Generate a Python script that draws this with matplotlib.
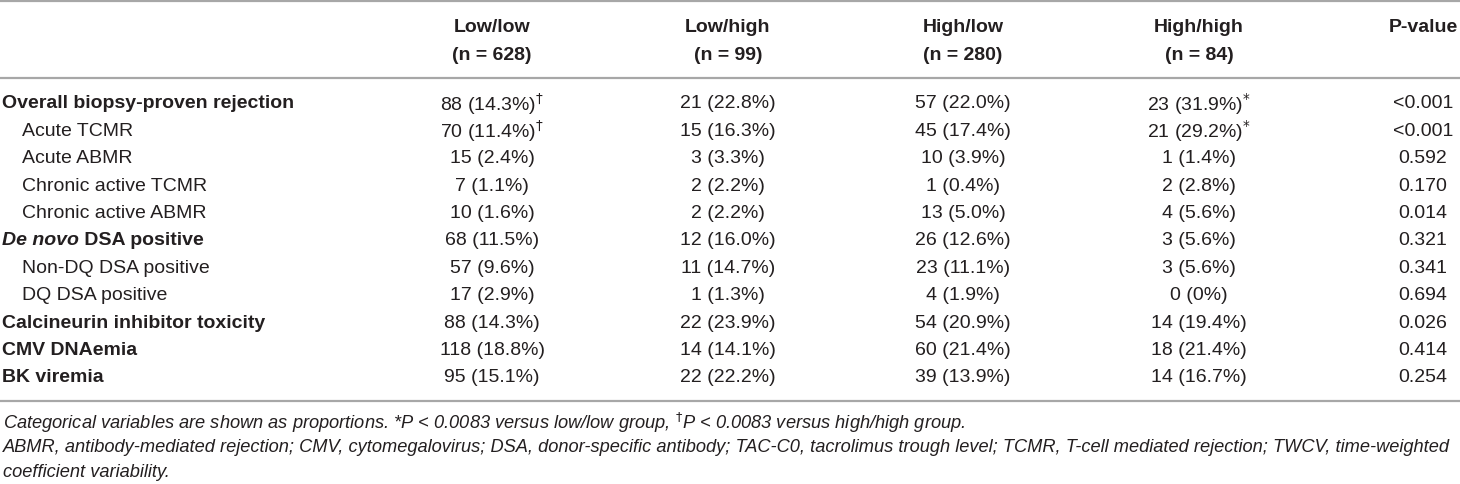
import matplotlib
matplotlib.use("Agg")
import matplotlib.pyplot as plt
from matplotlib.lines import Line2D
from matplotlib.transforms import offset_copy

# --- table content ---
groups = ["Low/low", "Low/high", "High/low", "High/high"]
group_n = [628, 99, 280, 84]

row_labels = [
    "Overall biopsy-proven rejection",
    "Acute TCMR",
    "Acute ABMR",
    "Chronic active TCMR",
    "Chronic active ABMR",
    "De novo DSA positive",
    "Non-DQ DSA positive",
    "DQ DSA positive",
    "Calcineurin inhibitor toxicity",
    "CMV DNAemia",
    "BK viremia",
]
row_level = [0, 1, 1, 1, 1, 0, 1, 1, 0, 0, 0]  # 0 = bold heading, 1 = indented sub-row

low_low = ["88 (14.3%)", "70 (11.4%)", "15 (2.4%)", "7 (1.1%)", "10 (1.6%)", "68 (11.5%)",
           "57 (9.6%)", "17 (2.9%)", "88 (14.3%)", "118 (18.8%)", "95 (15.1%)"]
low_high = ["21 (22.8%)", "15 (16.3%)", "3 (3.3%)", "2 (2.2%)", "2 (2.2%)", "12 (16.0%)",
            "11 (14.7%)", "1 (1.3%)", "22 (23.9%)", "14 (14.1%)", "22 (22.2%)"]
high_low = ["57 (22.0%)", "45 (17.4%)", "10 (3.9%)", "1 (0.4%)", "13 (5.0%)", "26 (12.6%)",
            "23 (11.1%)", "4 (1.9%)", "54 (20.9%)", "60 (21.4%)", "39 (13.9%)"]
high_high = ["23 (31.9%)", "21 (29.2%)", "1 (1.4%)", "2 (2.8%)", "4 (5.6%)", "3 (5.6%)",
             "3 (5.6%)", "0 (0%)", "14 (19.4%)", "18 (21.4%)", "14 (16.7%)"]
low_low_mark = ["†", "†", "", "", "", "", "", "", "", "", ""]
high_high_mark = ["*", "*", "", "", "", "", "", "", "", "", ""]
p_values = ["<0.001", "<0.001", "0.592", "0.170", "0.014", "0.321",
            "0.341", "0.694", "0.026", "0.414", "0.254"]

footnote_1 = ("Categorical variables are shown as proportions. *P < 0.0083 versus low/low group, "
              "$^{\\dagger}$P < 0.0083 versus high/high group.")
footnote_2 = ("ABMR, antibody-mediated rejection; CMV, cytomegalovirus; DSA, donor-specific antibody; "
              "TAC-C0, tacrolimus trough level; TCMR, T-cell mediated rejection; TWCV, time-weighted")
footnote_3 = "coefficient variability."

# --- layout (pixels) ---
W, H = 1460, 485
col_x = [492, 728, 963, 1199]
p_x = 1423
row_y0, row_dy = 104, 27.4
FS = 14.0
TXT = "#231f20"
LINE = "#a7a7a7"

plt.rcParams["font.family"] = ["Liberation Sans", "DejaVu Sans"]
plt.rcParams["mathtext.fontset"] = "dejavusans"

fig = plt.figure(figsize=(W / 100, H / 100), dpi=100)
fig.patch.set_facecolor("white")


def px(x):
    return x / W


def py(y):
    return 1 - y / H


def hline(y, lw=1.6, color=LINE):
    fig.add_artist(Line2D([0, 1], [py(y), py(y)], transform=fig.transFigure,
                          color=color, lw=lw))


hline(1.5)
hline(79)
hline(402)

# header
for x, g, n in zip(col_x, groups, group_n):
    fig.text(px(x), py(28), g, ha="center", va="center", fontsize=FS, weight="bold", color=TXT)
    fig.text(px(x), py(55), f"(n = {n})", ha="center", va="center", fontsize=FS,
             weight="bold", color=TXT)
fig.text(px(p_x), py(28), "P-value", ha="center", va="center", fontsize=FS, weight="bold",
         color=TXT)

renderer = fig.canvas.get_renderer()

# body
columns = [low_low, low_high, high_low, high_high]
for i, label in enumerate(row_labels):
    y = py(row_y0 + i * row_dy)
    if row_level[i] == 0:
        if label.startswith("De novo"):
            t = fig.text(px(2), y, "De novo", ha="left", va="center", fontsize=FS,
                         weight="bold", style="italic", color=TXT)
            w_pt = t.get_window_extent(renderer).width * 72 / fig.dpi
            fig.text(px(2), y, label[len("De novo"):], ha="left", va="center", fontsize=FS,
                     weight="bold", color=TXT,
                     transform=offset_copy(fig.transFigure, fig=fig, x=w_pt, y=0,
                                           units="points"))
        else:
            fig.text(px(2), y, label, ha="left", va="center", fontsize=FS, weight="bold",
                     color=TXT)
    else:
        fig.text(px(22), y, label, ha="left", va="center", fontsize=FS, color=TXT)

    for j, col in enumerate(columns):
        s = col[i]
        if j == 0 and low_low_mark[i]:
            s += "$^{\\dagger}$"
        if j == 3 and high_high_mark[i]:
            s += "$^{*}$"
        fig.text(px(col_x[j]), y, s, ha="center", va="center", fontsize=FS, color=TXT)
    fig.text(px(p_x), y, p_values[i], ha="center", va="center", fontsize=FS, color=TXT)

# footnotes: size chosen so the long line spans the full width
probe = fig.text(0, 0, footnote_2, fontsize=FS, style="italic")
fs_note = FS * 1452 / probe.get_window_extent(renderer).width
probe.remove()
for yy, s in zip([423, 448, 473], [footnote_1, footnote_2, footnote_3]):
    fig.text(px(3), py(yy), s, ha="left", va="center", fontsize=fs_note, style="italic",
             color=TXT)

fig.savefig("out.png", dpi=100, facecolor="white")
